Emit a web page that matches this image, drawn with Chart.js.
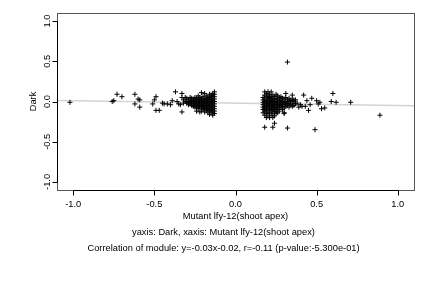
<!DOCTYPE html>
<html>
<head>
<meta charset="utf-8">
<script src="https://cdn.jsdelivr.net/npm/chart.js@4/dist/chart.umd.min.js"></script>
<style>
html,body{margin:0;padding:0;background:#fff;}
#c{display:block;}
</style>
</head>
<body>
<canvas id="c" width="432" height="288"></canvas>
<script>
// ---- data ----
const xTicks = [-1.0, -0.5, 0.0, 0.5, 1.0];
const xTickLabels = ["-1.0", "-0.5", "0.0", "0.5", "1.0"];
const yTicks = [-1.0, -0.5, 0.0, 0.5, 1.0];
const yTickLabels = ["-1.0", "-0.5", "0.0", "0.5", "1.0"];
const xLabel = "Mutant lfy-12(shoot apex)";
const yLabel = "Dark";
const subtitle1 = "yaxis: Dark, xaxis: Mutant lfy-12(shoot apex)";
const subtitle2 = "Correlation of module: y=-0.03x-0.02, r=-0.11 (p-value:-5.300e-01)";
const fitSlope = -0.03;
const fitIntercept = -0.02;
const axisMin = -1.1;
const axisMax = 1.1;

const outlierPoints = [
  [-1.02,-0.01],[-0.76,0.00],[-0.75,0.01],[-0.73,0.09],[-0.70,0.06],
  [-0.62,0.09],[-0.60,0.03],[-0.59,0.02],[-0.62,-0.03],[-0.59,-0.07],
  [-0.49,0.06],[-0.50,0.02],[-0.51,-0.03],[-0.49,-0.11],[-0.47,-0.11],
  [-0.45,-0.02],[-0.44,-0.03],[-0.42,-0.03],[-0.40,-0.04],[-0.37,0.12],
  [-0.33,0.10],[-0.33,0.05],[-0.33,-0.13],[-0.39,0.01],[-0.36,0.00],
  [-0.34,-0.04],[-0.31,0.00],[-0.35,-0.03],
  [0.18,-0.32],[0.23,-0.32],[0.24,-0.27],[0.32,-0.33],[0.32,0.49],
  [0.31,0.10],[0.35,0.08],[0.36,0.02],[0.30,-0.15],[0.42,0.08],
  [0.39,-0.07],[0.43,-0.06],[0.45,-0.11],[0.47,0.04],[0.49,-0.35],
  [0.50,0.01],[0.51,-0.03],[0.52,-0.01],[0.53,-0.09],[0.55,-0.08],
  [0.60,0.10],[0.59,0.00],[0.62,-0.01],[0.71,-0.01],[0.89,-0.17],
  [0.40,-0.04],[0.41,-0.06],[0.38,-0.02],[0.44,0.01],[0.46,-0.04]
];

const leftCluster = [
  [-0.13,0.12],[-0.13,0.09],[-0.13,0.06],[-0.13,0.03],[-0.13,0.00],[-0.13,-0.03],[-0.13,-0.06],[-0.13,-0.09],[-0.13,-0.12],[-0.13,-0.15],
  [-0.14,0.10],[-0.14,0.07],[-0.14,0.04],[-0.14,0.01],[-0.14,-0.02],[-0.14,-0.05],[-0.14,-0.08],[-0.14,-0.11],[-0.14,-0.14],[-0.14,-0.17],
  [-0.15,0.08],[-0.15,0.05],[-0.15,0.02],[-0.15,-0.01],[-0.15,-0.04],[-0.15,-0.07],[-0.15,-0.10],[-0.15,-0.13],
  [-0.16,0.09],[-0.16,0.06],[-0.16,0.03],[-0.16,0.00],[-0.16,-0.03],[-0.16,-0.06],[-0.16,-0.09],[-0.16,-0.12],[-0.16,-0.16],
  [-0.17,0.05],[-0.17,0.02],[-0.17,-0.01],[-0.17,-0.04],[-0.17,-0.07],[-0.17,-0.10],[-0.17,-0.14],
  [-0.18,0.07],[-0.18,0.04],[-0.18,0.01],[-0.18,-0.02],[-0.18,-0.05],[-0.18,-0.08],[-0.18,-0.11],
  [-0.19,0.10],[-0.19,0.03],[-0.19,0.00],[-0.19,-0.03],[-0.19,-0.06],[-0.19,-0.09],[-0.19,-0.13],
  [-0.20,0.06],[-0.20,0.02],[-0.20,-0.01],[-0.20,-0.04],[-0.20,-0.07],[-0.20,-0.10],
  [-0.21,0.11],[-0.21,0.04],[-0.21,0.01],[-0.21,-0.02],[-0.21,-0.05],[-0.21,-0.08],[-0.21,-0.12],
  [-0.22,0.05],[-0.22,0.02],[-0.22,-0.01],[-0.22,-0.04],[-0.22,-0.07],[-0.22,-0.13],
  [-0.23,0.07],[-0.23,0.03],[-0.23,0.00],[-0.23,-0.03],[-0.23,-0.06],[-0.23,-0.09],
  [-0.24,0.04],[-0.24,0.01],[-0.24,-0.02],[-0.24,-0.05],[-0.24,-0.08],[-0.24,-0.12],
  [-0.25,0.05],[-0.25,0.02],[-0.25,-0.01],[-0.25,-0.04],[-0.25,-0.07],
  [-0.26,0.03],[-0.26,0.00],[-0.26,-0.03],[-0.26,-0.06],
  [-0.27,0.04],[-0.27,0.01],[-0.27,-0.02],[-0.27,-0.05],
  [-0.28,0.05],[-0.28,0.00],[-0.28,-0.03],
  [-0.29,0.02],[-0.29,-0.01],[-0.29,-0.04],
  [-0.30,0.04],[-0.30,0.00],[-0.30,-0.02],
  [-0.31,0.05],[-0.32,-0.02],[-0.32,0.02]
];

const rightCluster = [
  [0.17,0.05],[0.17,0.02],[0.17,-0.01],[0.17,-0.04],[0.17,-0.07],[0.17,-0.10],[0.17,-0.14],
  [0.18,0.12],[0.18,0.08],[0.18,0.03],[0.18,0.00],[0.18,-0.03],[0.18,-0.06],[0.18,-0.09],[0.18,-0.12],[0.18,-0.17],
  [0.19,0.10],[0.19,0.06],[0.19,0.01],[0.19,-0.02],[0.19,-0.05],[0.19,-0.08],[0.19,-0.11],[0.19,-0.15],[0.19,-0.20],
  [0.20,0.12],[0.20,0.07],[0.20,0.04],[0.20,0.01],[0.20,-0.02],[0.20,-0.05],[0.20,-0.08],[0.20,-0.13],[0.20,-0.18],
  [0.21,0.09],[0.21,0.05],[0.21,0.02],[0.21,-0.01],[0.21,-0.04],[0.21,-0.07],[0.21,-0.10],[0.21,-0.14],[0.21,-0.20],
  [0.22,0.12],[0.22,0.06],[0.22,0.03],[0.22,0.00],[0.22,-0.03],[0.22,-0.06],[0.22,-0.09],[0.22,-0.12],[0.22,-0.17],
  [0.23,0.08],[0.23,0.04],[0.23,0.01],[0.23,-0.02],[0.23,-0.05],[0.23,-0.08],[0.23,-0.11],[0.23,-0.15],[0.23,-0.20],
  [0.24,0.06],[0.24,0.02],[0.24,-0.01],[0.24,-0.04],[0.24,-0.07],[0.24,-0.10],[0.24,-0.13],[0.24,-0.18],
  [0.25,0.09],[0.25,0.04],[0.25,0.00],[0.25,-0.03],[0.25,-0.06],[0.25,-0.09],[0.25,-0.12],[0.25,-0.15],
  [0.26,0.07],[0.26,0.03],[0.26,-0.01],[0.26,-0.04],[0.26,-0.07],[0.26,-0.10],[0.26,-0.14],
  [0.27,0.05],[0.27,0.01],[0.27,-0.02],[0.27,-0.05],[0.27,-0.08],[0.27,-0.12],
  [0.28,0.06],[0.28,0.02],[0.28,-0.01],[0.28,-0.04],[0.28,-0.07],
  [0.29,0.04],[0.29,0.00],[0.29,-0.03],[0.29,-0.06],[0.29,-0.10],
  [0.30,0.03],[0.30,-0.01],[0.30,-0.04],[0.30,-0.08],[0.30,-0.14],
  [0.31,0.05],[0.31,0.00],[0.31,-0.03],[0.31,-0.06],
  [0.32,0.02],[0.32,-0.02],[0.32,-0.05],
  [0.33,0.04],[0.33,0.00],[0.33,-0.03],[0.33,-0.07],
  [0.34,0.01],[0.34,-0.04],
  [0.35,0.03],[0.35,-0.02],[0.35,-0.06],
  [0.36,0.00],[0.36,-0.05],
  [0.37,0.02],[0.37,-0.03]
];

// ---- chart ----
const toXY = arr => arr.map(p => ({x: p[0], y: p[1]}));
const allPoints = toXY(outlierPoints.concat(leftCluster, rightCluster));
const fitLine = [axisMin, axisMax].map(x => ({x: x, y: fitSlope * x + fitIntercept}));

const FONT = '"Liberation Sans", Arial, Helvetica, sans-serif';

const decor = {
  id: 'decor',
  beforeDatasetsDraw(chart) {
    const ctx = chart.ctx, a = chart.chartArea;
    ctx.save();
    ctx.strokeStyle = '#555';
    ctx.lineWidth = 1;
    ctx.strokeRect(Math.round(a.left) + 0.5, Math.round(a.top) + 0.5,
                   Math.round(a.right - a.left), Math.round(a.bottom - a.top));
    ctx.restore();
  },
  afterDraw(chart) {
    const ctx = chart.ctx, a = chart.chartArea;
    const xs = chart.scales.x, ys = chart.scales.y;
    ctx.save();
    ctx.strokeStyle = '#000';
    ctx.fillStyle = '#000';
    ctx.lineWidth = 1;
    // x axis line + ticks
    const bx = Math.round(a.bottom) + 0.5;
    ctx.beginPath();
    ctx.moveTo(xs.getPixelForValue(xTicks[0]), bx);
    ctx.lineTo(xs.getPixelForValue(xTicks[xTicks.length - 1]), bx);
    xTicks.forEach(v => {
      const px = Math.round(xs.getPixelForValue(v)) + 0.5;
      ctx.moveTo(px, bx); ctx.lineTo(px, bx + 5);
    });
    ctx.stroke();
    ctx.font = '9.3px ' + FONT;
    ctx.textAlign = 'center';
    ctx.textBaseline = 'middle';
    xTicks.forEach((v, i) => {
      ctx.fillText(xTickLabels[i], xs.getPixelForValue(v), a.bottom + 14);
    });
    // y axis line + ticks
    const lx = Math.round(a.left) + 0.5;
    ctx.beginPath();
    ctx.moveTo(lx, ys.getPixelForValue(yTicks[0]));
    ctx.lineTo(lx, ys.getPixelForValue(yTicks[yTicks.length - 1]));
    yTicks.forEach(v => {
      const py = Math.round(ys.getPixelForValue(v)) + 0.5;
      ctx.moveTo(lx, py); ctx.lineTo(lx - 5, py);
    });
    ctx.stroke();
    yTicks.forEach((v, i) => {
      ctx.save();
      ctx.translate(a.left - 10, ys.getPixelForValue(v));
      ctx.rotate(-Math.PI / 2);
      ctx.fillText(yTickLabels[i], 0, 0);
      ctx.restore();
    });
    // axis titles
    ctx.fillText(xLabel, (a.left + a.right) / 2, a.bottom + 26);
    ctx.save();
    ctx.translate(a.left - 24, (a.top + a.bottom) / 2);
    ctx.rotate(-Math.PI / 2);
    ctx.fillText(yLabel, 0, 0);
    ctx.restore();
    // subtitles
    const subX = (a.left + a.right) / 2 - 12;
    ctx.fillText(subtitle1, subX, a.bottom + 42);
    ctx.fillText(subtitle2, subX, a.bottom + 58);
    ctx.restore();
  }
};

new Chart(document.getElementById('c'), {
  type: 'scatter',
  data: {
    datasets: [
      {
        type: 'line',
        label: 'fit',
        data: fitLine,
        borderColor: '#d3d3d3',
        borderWidth: 1.5,
        pointRadius: 0,
        fill: false,
        order: 2
      },
      {
        label: 'genes',
        data: allPoints,
        pointStyle: 'cross',
        pointRadius: 2.5,
        pointHoverRadius: 2.5,
        borderColor: '#000',
        backgroundColor: '#000',
        borderWidth: 1,
        order: 1
      }
    ]
  },
  options: {
    responsive: false,
    animation: false,
    events: [],
    layout: { padding: { left: 57, top: 13, right: 18, bottom: 98 } },
    plugins: { legend: { display: false }, tooltip: { enabled: false }, title: { display: false } },
    scales: {
      x: { type: 'linear', display: false, min: axisMin, max: axisMax },
      y: { type: 'linear', display: false, min: axisMin, max: axisMax }
    }
  },
  plugins: [decor]
});
</script>
</body>
</html>
